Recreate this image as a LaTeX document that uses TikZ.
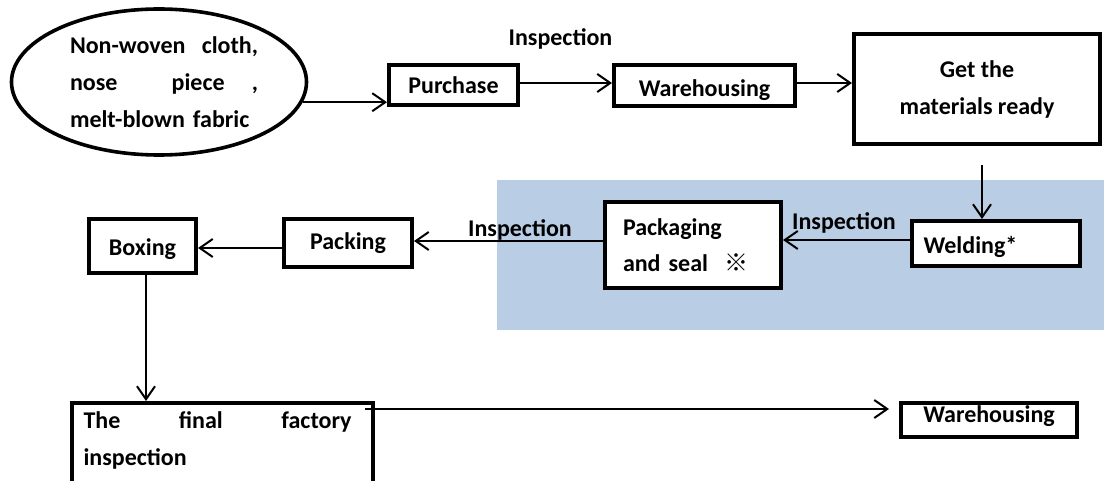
\documentclass[tikz,border=0pt]{standalone}
\usepackage{fontspec}
\setmainfont{Carlito}
\newfontfamily\refmark{Noto Sans CJK SC}
\usetikzlibrary{arrows.meta,shapes.geometric}

\definecolor{panelblue}{RGB}{185,205,228}

\begin{document}
\begin{tikzpicture}[x=1pt,y=-1pt,
  every node/.style={font=\fontsize{24pt}{37pt}\selectfont\bfseries, inner sep=0pt},
  box/.style={draw, line width=4pt, fill=white},
  flow/.style={line width=2pt, -{Straight Barb[length=13pt,width=18pt]}},
  tag/.style={fill=none}]
\useasboundingbox (0,0) rectangle (1104,481);
\clip (0,0) rectangle (1104,481);

% shaded production area
\fill[panelblue] (497,180) rectangle (1104,330);

% raw materials
\node[ellipse, draw, line width=3.6pt, minimum width=295pt, minimum height=146pt,
      text width=198pt, align=left] (src) at (159,82)
  {\hspace*{10pt}\makebox[188pt][l]{Non-woven\hfill cloth,}\\
   \hspace*{10pt}\makebox[188pt][l]{nose\hfill\hfill piece\hfill ,}\\
   \hspace*{10pt}melt-blown fabric};

% top row
\node[box, minimum width=129pt, minimum height=40pt] (buy) at (453.5,85) {Purchase};
\node[box, minimum width=181pt, minimum height=41pt, text height=27pt] (store) at (704.5,85.5) {Warehousing};
\node[box, minimum width=246pt, minimum height=110pt, align=center] (ready) at (977,89)
  {Get the\\materials ready};

% middle row
\node[box, minimum width=168pt, minimum height=45pt, text width=145pt, align=left,
      text height=25pt] (weld) at (996,243.5) {Welding*};
\node[box, minimum width=176pt, minimum height=86pt, text width=140pt, align=left,
      font=\fontsize{24pt}{36pt}\selectfont\bfseries] (seal) at (693,245)
  {Packaging\\and seal\hspace{16pt}{\refmark ※}};
\node[box, minimum width=128pt, minimum height=48pt] (pack) at (348,243) {Packing};
\node[box, minimum width=107pt, minimum height=54pt, text height=23.5pt] (boxing) at (142.5,246) {Boxing};

% bottom row
\node[box, anchor=north west, minimum width=301pt, text width=278pt, align=left] (final) at (70,401)
  {\rule{0pt}{25pt}\makebox[268pt][l]{The\hfill final\hfill factory}\\
   inspection\rule[-60pt]{0pt}{1pt}};
\node[box, minimum width=176pt, minimum height=34pt, text depth=11pt] (store2) at (989,420) {Warehousing};

% inspection labels
\node[tag] (chk1) at (560.5,38.5) {Inspection};
\node[tag] (chk2) at (844,222.5) {Inspection};
\node[tag] (chk3) at (520,230) {Inspection};

% connectors
\draw[flow] (src.-8.3) -- (src.-8.3 -| buy.west);
\draw[flow] ([yshift=2pt]buy.east) -- ([yshift=2pt]buy.east -| store.west);
\draw[flow] ([yshift=2.5pt]store.east) -- ([yshift=2.5pt]store.east -| ready.west);
\coordinate (dropstart) at (982,165);
\draw[flow] (dropstart) -- (dropstart |- weld.north);
\draw[flow] ([yshift=3.5pt]weld.west) -- ([yshift=3.5pt]weld.west -| seal.east);
\draw[flow] ([yshift=4pt]seal.west) -- ([yshift=4pt]seal.west -| pack.east);
\draw[flow] ([yshift=-5pt]pack.west) -- ([yshift=-5pt]pack.west -| boxing.east);
\draw[flow] ([xshift=3.5pt]boxing.south) -- ([xshift=3.5pt]boxing.south |- final.north);
\draw[flow] ([shift={(-10pt,-8pt)}]final.north east) -- ([shift={(-10pt,-8pt)}]final.north east -| store2.west);
\end{tikzpicture}
\end{document}
